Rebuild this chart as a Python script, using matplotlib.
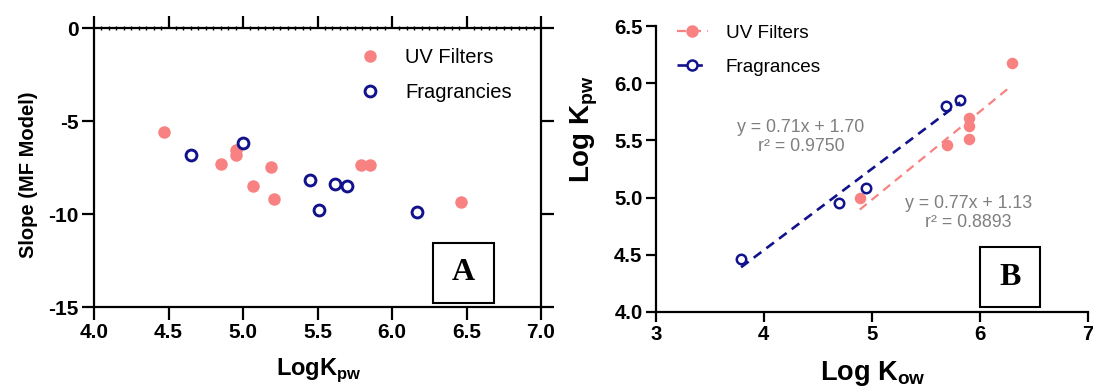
import numpy as np
import matplotlib
matplotlib.use("Agg")
import matplotlib.pyplot as plt
from matplotlib.patches import Rectangle

plt.rcParams['font.family'] = ['Liberation Sans', 'DejaVu Sans']
plt.rcParams['mathtext.fontset'] = 'custom'
plt.rcParams['mathtext.rm'] = 'Liberation Sans:bold'
plt.rcParams['mathtext.bf'] = 'Liberation Sans:bold'

# Panel A data: slope of MF model vs log Kpw
uv_a_x = [4.47, 4.85, 4.95, 4.95, 5.07, 5.19, 5.21, 5.79, 5.85, 6.46]
uv_a_y = [-5.57, -7.33, -6.56, -6.83, -8.48, -7.47, -9.18, -7.38, -7.38, -9.32]
fr_a_x = [4.65, 5.00, 5.45, 5.51, 5.62, 5.70, 6.17]
fr_a_y = [-6.83, -6.16, -8.17, -9.78, -8.39, -8.46, -9.87]

# Panel B data: log Kpw vs log Kow
uv_b_x = [4.89, 5.70, 5.90, 5.90, 5.90, 6.30]
uv_b_y = [5.00, 5.46, 5.70, 5.63, 5.51, 6.18]
fr_b_x = [3.79, 4.70, 4.95, 5.69, 5.82]
fr_b_y = [4.46, 4.95, 5.08, 5.80, 5.85]

# regression lines (slope, intercept)
uv_fit = (0.77, 1.13)
fr_fit = (0.71, 1.70)
uv_txt = "y = 0.77x + 1.13\nr\u00b2 = 0.8893"
fr_txt = "y = 0.71x + 1.70\nr\u00b2 = 0.9750"

pink = '#F88282'
navy = '#12128C'

fig = plt.figure(figsize=(10.93, 3.89), dpi=100)
axA = fig.add_axes([0.086, 0.210, 0.409, 0.718])
axB = fig.add_axes([0.600, 0.198, 0.395, 0.735])

# ---------- panel A
axA.plot(uv_a_x, uv_a_y, 'o', color=pink, ms=9, mec='none', label='UV Filters')
axA.plot(fr_a_x, fr_a_y, 'o', mfc='white', mec=navy, mew=2.1, ms=7.8, label='Fragrancies')
axA.set_xlim(4, 7)
axA.set_ylim(-15, 0)
axA.set_xticks(np.arange(4, 7.01, 0.5))
axA.set_xticklabels([f'{v:.1f}' for v in np.arange(4, 7.01, 0.5)])
axA.set_yticks([0, -5, -10, -15])
axA.set_yticklabels(['0', '-5', '-10', '-15'])
for s in axA.spines.values():
    s.set_linewidth(1.6)
axA.tick_params(axis='both', which='major', direction='out', length=9, width=1.6,
                labelsize=15, pad=2)
for lab in axA.get_xticklabels() + axA.get_yticklabels():
    lab.set_fontweight('bold')
axA.tick_params(axis='y', right=True)
axA.tick_params(axis='x', top=True)
axA.set_xticks(np.arange(4, 7.001, 0.05), minor=True)
axA.tick_params(axis='x', which='minor', bottom=False, top=True, direction='inout',
                length=3.5, width=1.0)
axA.tick_params(axis='y', which='minor', left=False, right=False)
axA.set_xlabel(r'LogK$_{\mathrm{pw}}$', fontsize=17, fontweight='bold')
axA.set_ylabel('Slope (MF Model)', fontsize=14.5, fontweight='bold')
axA.xaxis.set_label_coords(0.503, -0.175)
axA.yaxis.set_label_coords(-0.125, 0.475)
axA.legend(loc='upper left', bbox_to_anchor=(0.595, 0.93), frameon=False,
           fontsize=14.5, handlelength=1.0, handletextpad=1.25, labelspacing=0.84,
           borderpad=0, borderaxespad=0, numpoints=1)
axA.add_patch(Rectangle((0.759, 0.016), 0.136, 0.214, transform=axA.transAxes,
                        fill=False, lw=1.5, ec='black'))
axA.text(0.827, 0.123, 'A', transform=axA.transAxes, ha='center', va='center',
         fontsize=23, fontweight='bold', family='Liberation Serif')

# ---------- panel B
axB.plot(uv_b_x, uv_b_y, 'o', color=pink, ms=8.3, mec='none')
axB.plot(fr_b_x, fr_b_y, 'o', mfc='white', mec=navy, mew=1.8, ms=6.8)
xu = np.array([min(uv_b_x), max(uv_b_x)])
xf = np.array([min(fr_b_x), max(fr_b_x)])
axB.plot(xu, uv_fit[0] * xu + uv_fit[1], color=pink, lw=1.6, dashes=(4, 2.8))
axB.plot(xf, fr_fit[0] * xf + fr_fit[1], color=navy, lw=1.9, dashes=(3.6, 2.4))
# legend proxies
axB.plot([], [], color=pink, lw=1.6, dashes=(4, 2.8), marker='o', ms=9, mec='none',
         label='UV Filters')
axB.plot([], [], color=navy, lw=1.9, dashes=(3.6, 2.4), marker='o', mfc='white',
         mec=navy, mew=1.8, ms=7.2, label='Fragrances')
axB.text(4.344, 5.534, fr_txt, ha='center', va='center', fontsize=12.8, color='#7F7F7F',
         linespacing=1.15)
axB.text(5.898, 4.868, uv_txt, ha='center', va='center', fontsize=12.8, color='#7F7F7F',
         linespacing=1.15)
axB.set_xlim(3, 7)
axB.set_ylim(4.0, 6.5)
axB.set_xticks([3, 4, 5, 6, 7])
axB.set_yticks(np.arange(4.0, 6.51, 0.5))
axB.set_yticklabels([f'{v:.1f}' for v in np.arange(4.0, 6.51, 0.5)])
axB.spines['top'].set_visible(False)
axB.spines['right'].set_visible(False)
for s in axB.spines.values():
    s.set_linewidth(1.6)
axB.tick_params(axis='both', direction='out', length=7.5, width=1.6, labelsize=14.7, pad=2)
for lab in axB.get_xticklabels() + axB.get_yticklabels():
    lab.set_fontweight('bold')
axB.set_xlabel(r'Log K$_{\mathrm{ow}}$', fontsize=19.5, fontweight='bold')
axB.set_ylabel(r'Log K$_{\mathrm{pw}}$', fontsize=20, fontweight='bold')
axB.xaxis.set_label_coords(0.502, -0.163)
axB.yaxis.set_label_coords(-0.13, 0.64)
axB.legend(loc='upper left', bbox_to_anchor=(0.049, 1.005), frameon=False,
           fontsize=13.6, handlelength=1.64, handletextpad=0.95, labelspacing=0.89,
           borderpad=0, borderaxespad=0, numpoints=1)
axB.add_patch(Rectangle((0.751, 0.016), 0.140, 0.21, transform=axB.transAxes,
                        fill=False, lw=1.5, ec='black'))
axB.text(0.821, 0.121, 'B', transform=axB.transAxes, ha='center', va='center',
         fontsize=23, fontweight='bold', family='Liberation Serif')

fig.savefig('out.png', dpi=100)
